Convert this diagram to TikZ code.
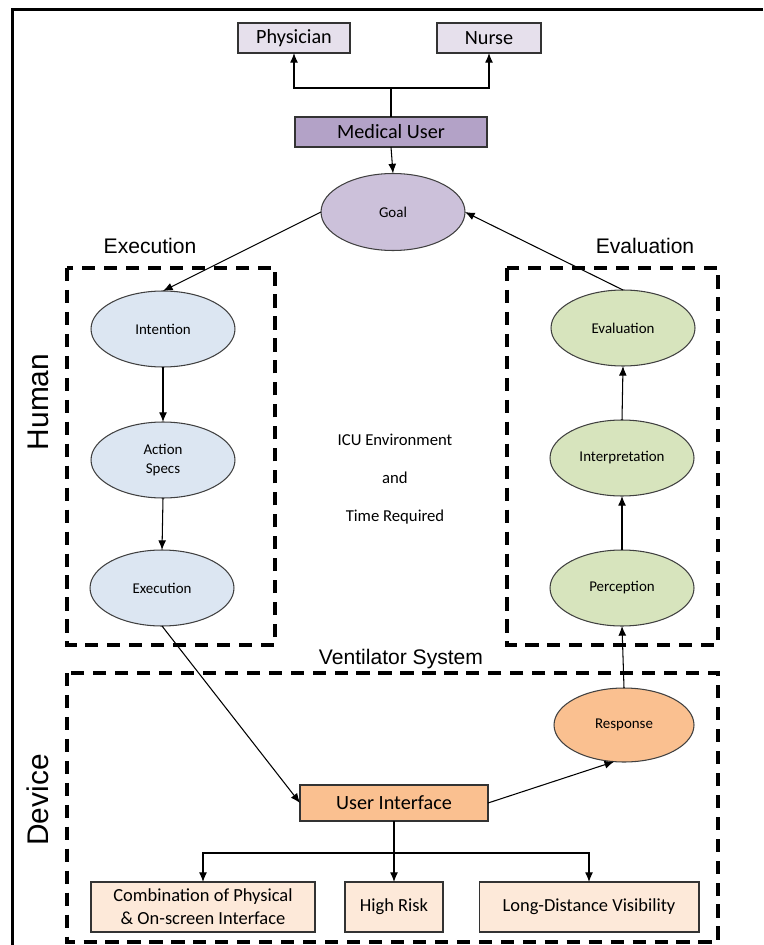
\documentclass[tikz,border=0pt]{standalone}
\usepackage{fontspec}
\setmainfont{Carlito}
\newfontfamily\arialfont{Liberation Sans}
\usepackage{pgf,tikz}
\usetikzlibrary{shapes.geometric,arrows.meta}

\definecolor{userpurple}{HTML}{B3A2C7}
\definecolor{rolelilac}{HTML}{E6E0EC}
\definecolor{goallilac}{HTML}{CCC1DA}
\definecolor{execblue}{HTML}{DCE6F2}
\definecolor{evalgreen}{HTML}{D7E4BD}
\definecolor{devorange}{HTML}{FAC090}
\definecolor{featpeach}{HTML}{FDE9D9}

\begin{document}
\begin{tikzpicture}[x=0.02cm, y=-0.02cm,
    every node/.style={inner sep=0pt, outer sep=0pt, align=center},
    box/.style={draw=black!80, line width=0.6pt, font=\fontsize{11.5}{13}\selectfont},
    stage/.style={ellipse, draw=black!75, line width=0.6pt, minimum width=2.88cm, minimum height=1.52cm, font=\fontsize{8.5}{10.5}\selectfont},
    arr/.style={-{Latex[length=5.5pt,width=4.5pt]}, line width=0.6pt},
    region/.style={line width=1.9pt, dash pattern=on 7.5pt off 5pt},
    caption/.style={font=\arialfont\fontsize{12}{14}\selectfont},
    side/.style={font=\arialfont\fontsize{17}{20}\selectfont, rotate=90}]
            \useasboundingbox (0,0) rectangle (763,945);
            \draw[line width=1.7pt] (12.5,945) -- (12.5,9.5) -- (763,9.5);
            % user roles
            \node[box, fill=rolelilac, minimum width=2.24cm, minimum height=0.6cm] (physician) at (294,38) {Physician};
            \node[box, fill=rolelilac, minimum width=2.08cm, minimum height=0.6cm] (nurse) at (489,38) {Nurse};
            \node[box, fill=userpurple, minimum width=3.84cm, minimum height=0.6cm] (meduser) at (391,132) {Medical User};
            \coordinate (split) at (391,88);
            \draw[line width=0.6pt] (meduser.north) -- (split);
            \draw[arr] (split) -| (physician.south);
            \draw[arr] (split) -| (nurse.south);
            \node[stage, fill=goallilac, minimum height=1.54cm] (goal) at (393,212) {Goal};
            \draw[arr] (meduser.south) -- (goal.north);
            % human side
            \node[caption] (execlabel) at (150,246) {Execution};
            \node[caption] (evallabel) at (645,246) {Evaluation};
            \draw[region] (67,268) rectangle (275,645);
            \draw[region] (507,268) rectangle (718,645);
            \node[side] (human) at (38,402) {Human};
            \node[stage, fill=execblue] (intention) at (163,329) {Intention};
            \node[stage, fill=execblue] (actionspecs) at (163,460) {Action\\Specs};
            \node[stage, fill=execblue] (execution) at (162,588) {Execution};
            \node[stage, fill=evalgreen] (evaluation) at (623,328) {Evaluation};
            \node[stage, fill=evalgreen] (interpretation) at (622,458) {Interpretation};
            \node[stage, fill=evalgreen] (perception) at (622,588) {Perception};
            \draw[arr] (goal.west) -- (intention.north);
            \draw[arr] (intention.south) -- (actionspecs.north);
            \draw[arr] (actionspecs.south) -- (execution.north);
            \draw[arr] (perception.north) -- (interpretation.south);
            \draw[arr] (interpretation.north) -- (evaluation.south);
            \draw[arr] (evaluation.north) -- (goal.east);
            \node[font=\fontsize{9.5}{11}\selectfont] (icu) at (395,440) {ICU Environment};
            \node[font=\fontsize{9.5}{11}\selectfont] (and) at (395,478) {and};
            \node[font=\fontsize{9.5}{11}\selectfont] (time) at (395,517) {Time Required};
            % device side
            \node[caption] (ventlabel) at (401,659) {Ventilator System};
            \draw[region] (67,673) rectangle (718,942);
            \node[side] (device) at (38,800) {Device};
            \node[stage, fill=devorange, minimum width=2.8cm, minimum height=1.48cm] (response) at (624,725) {Response};
            \node[box, fill=devorange, minimum width=3.76cm, minimum height=0.72cm] (ui) at (394,803) {User Interface};
            \draw[arr] (execution.south) -- (ui.west);
            \draw[arr] (ui.east) -- (response.255);
            \draw[arr] (response.north) -- (perception.south);
            \node[box, fill=featpeach, minimum width=4.48cm, minimum height=1cm, font=\fontsize{10.5}{13}\selectfont] (combo) at (203,907) {Combination of Physical\\\& On-screen Interface};
            \node[box, fill=featpeach, minimum width=1.96cm, minimum height=1cm, font=\fontsize{10.5}{13}\selectfont] (risk) at (394,907) {High Risk};
            \node[box, fill=featpeach, minimum width=4.4cm, minimum height=1cm, font=\fontsize{10.5}{13}\selectfont] (visibility) at (589,907) {Long-Distance Visibility};
            \coordinate (fork) at (394,853);
            \draw[line width=0.6pt] (ui.south) -- (fork);
            \draw[arr] (fork) -| (combo.north);
            \draw[arr] (fork) -- (risk.north);
            \draw[arr] (fork) -| (visibility.north);
        \end{tikzpicture}
\end{document}
